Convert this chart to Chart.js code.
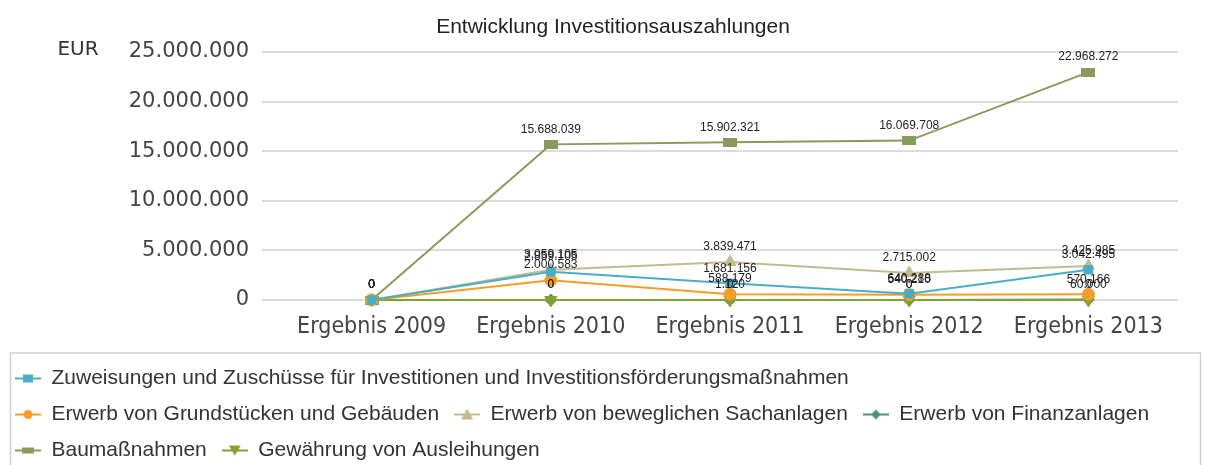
<!DOCTYPE html>
<html>
<head>
<meta charset="utf-8">
<script src="https://cdn.jsdelivr.net/npm/chart.js@4/dist/chart.umd.min.js"></script>
<style>
  html, body { margin: 0; padding: 0; background: #fff; overflow: hidden; }
  #wrap { width: 1205px; height: 465px; overflow: hidden; }
</style>
</head>
<body>
<div id="wrap"><canvas id="chart" width="1205" height="471"></canvas></div>
<script>
// Kategorien und Werte
const years = ["Ergebnis 2009", "Ergebnis 2010", "Ergebnis 2011", "Ergebnis 2012", "Ergebnis 2013"];

const zuweisungen = [0, 2859105, 1681156, 640288, 3042495];
const grundstuecke = [0, 2000583, 588179, 540210, 570166];
const sachanlagen = [0, 3059105, 3839471, 2715002, 3425985];
const finanzanlagen = [0, 0, 1120, 0, 60000];
const baumassnahmen = [0, 15688039, 15902321, 16069708, 22968272];
const ausleihungen = [0, 0, 0, 0, 0];

const yTicks = [0, 5000000, 10000000, 15000000, 20000000, 25000000];

const chartTitle = "Entwicklung Investitionsauszahlungen";
const unitLabel = "EUR";

const seriesNames = [
  "Zuweisungen und Zuschüsse für Investitionen und Investitionsförderungsmaßnahmen",
  "Erwerb von Grundstücken und Gebäuden",
  "Erwerb von beweglichen Sachanlagen",
  "Erwerb von Finanzanlagen",
  "Baumaßnahmen",
  "Gewährung von Ausleihungen"
];

// Tausenderpunkte wie im Original
function fmt(v) {
  return String(Math.round(v)).replace(/\B(?=(\d{3})+(?!\d))/g, ".");
}

// breites Rechteck wie bei den Baumaßnahmen im Original
function wideRect(color) {
  const c = document.createElement("canvas");
  c.width = 14;
  c.height = 9;
  const g = c.getContext("2d");
  g.fillStyle = color;
  g.fillRect(0, 0, 14, 9);
  return c;
}

function makeSeries(label, data, color, marker, radius, order) {
  let style = marker;
  let rotation = 0;
  if (marker === "down") { style = "triangle"; rotation = 180; }
  if (marker === "wide") { style = wideRect(color); }
  return {
    label,
    data,
    marker,
    borderColor: color,
    backgroundColor: color,
    borderWidth: 2,
    pointStyle: style,
    pointRadius: radius,
    pointRotation: rotation,
    pointBorderWidth: 1,
    tension: 0,
    clip: false,
    order: order || 0
  };
}

const datasets = [
  makeSeries(seriesNames[0], zuweisungen, "#4bacc6", "rect", 6),
  makeSeries(seriesNames[1], grundstuecke, "#f59d28", "circle", 6),
  makeSeries(seriesNames[2], sachanlagen, "#c2bb8f", "triangle", 7),
  makeSeries(seriesNames[3], finanzanlagen, "#4e8f80", "rectRot", 6, 1),
  makeSeries(seriesNames[4], baumassnahmen, "#8a9a5b", "wide", 7),
  makeSeries(seriesNames[5], ausleihungen, "#86a030", "down", 7)
];

// kleine Linie + Marker fuer die Legende
function legendIcon(ds) {
  const c = document.createElement("canvas");
  c.width = 26;
  c.height = 14;
  const g = c.getContext("2d");
  g.strokeStyle = ds.borderColor;
  g.fillStyle = ds.borderColor;
  g.lineWidth = 2;
  g.beginPath();
  g.moveTo(0, 7);
  g.lineTo(26, 7);
  g.stroke();
  g.beginPath();
  if (ds.marker === "rect") {
    g.fillRect(8, 3, 10, 8);
  } else if (ds.marker === "wide") {
    g.fillRect(7, 4, 12, 6);
  } else if (ds.marker === "circle") {
    g.arc(13, 7, 4.5, 0, Math.PI * 2);
    g.fill();
  } else if (ds.marker === "rectRot") {
    g.moveTo(13, 2); g.lineTo(18, 7); g.lineTo(13, 12); g.lineTo(8, 7);
    g.fill();
  } else if (ds.marker === "down") {
    g.moveTo(7, 2); g.lineTo(19, 2); g.lineTo(13, 12);
    g.fill();
  } else {
    g.moveTo(13, 1); g.lineTo(19, 12); g.lineTo(7, 12);
    g.fill();
  }
  return c;
}

const valueLabels = {
  id: "valueLabels",
  afterDatasetsDraw(chart) {
    const ctx = chart.ctx;
    ctx.save();
    ctx.font = '12px "Liberation Sans", Arial, sans-serif';
    ctx.fillStyle = "#222";
    ctx.textAlign = "center";
    ctx.textBaseline = "bottom";
    chart.data.datasets.forEach((ds, i) => {
      chart.getDatasetMeta(i).data.forEach((pt, j) => {
        ctx.fillText(fmt(ds.data[j]), pt.x, pt.y - 9);
      });
    });
    ctx.restore();
  }
};

const extras = {
  id: "extras",
  afterDraw(chart) {
    const ctx = chart.ctx;
    const y = chart.scales.y;
    ctx.save();
    // Titel
    ctx.font = '21px "Liberation Sans", Arial, sans-serif';
    ctx.fillStyle = "#222";
    ctx.textAlign = "center";
    ctx.textBaseline = "middle";
    ctx.fillText(chartTitle, 613, 27);
    // Einheit links oben
    ctx.font = '20px "DejaVu Sans", Verdana, sans-serif';
    ctx.fillStyle = "#333";
    ctx.fillText(unitLabel, 78, y.getPixelForValue(25000000) - 2);
    // Rahmen um die Legende
    const lg = chart.legend;
    ctx.strokeStyle = "#cfcfcf";
    ctx.lineWidth = 1.5;
    ctx.strokeRect(10.5, lg.top, 1190, 200);
    ctx.restore();
  }
};

new Chart(document.getElementById("chart"), {
  type: "line",
  data: { labels: years, datasets },
  options: {
    responsive: false,
    animation: false,
    layout: { padding: { top: 52, right: 27, bottom: 0 } },
    scales: {
      x: {
        offset: true,
        grid: { display: false },
        border: { display: false },
        ticks: {
          padding: 5,
          color: "#444",
          font: { family: '"DejaVu Sans Condensed", "DejaVu Sans", sans-serif', size: 23 }
        },
        afterFit(s) { s.height = 53; }
      },
      y: {
        min: 0,
        max: 25000000,
        afterBuildTicks(s) { s.ticks = yTicks.map(v => ({ value: v })); },
        grid: { color: "#dcdcdc", lineWidth: 2, tickLength: 20 },
        border: { display: false },
        ticks: {
          padding: 13,
          color: "#444",
          font: { family: '"DejaVu Sans", Verdana, sans-serif', size: 21 },
          callback: v => fmt(v)
        },
        afterFit(s) { s.width = 282; }
      }
    },
    plugins: {
      title: { display: false },
      legend: {
        position: "bottom",
        align: "start",
        labels: {
          usePointStyle: true,
          pointStyleWidth: 26,
          padding: 15,
          color: "#333",
          font: { family: '"Liberation Sans", Arial, sans-serif', size: 21 },
          sort: (a, b) => a.datasetIndex - b.datasetIndex,
          generateLabels(chart) {
            const items = Chart.defaults.plugins.legend.labels.generateLabels(chart);
            items.forEach(it => {
              it.pointStyle = legendIcon(chart.data.datasets[it.datasetIndex]);
              it.rotation = 0;
            });
            return items;
          }
        }
      },
      tooltip: { enabled: false }
    }
  },
  plugins: [valueLabels, extras]
});
</script>
</body>
</html>
